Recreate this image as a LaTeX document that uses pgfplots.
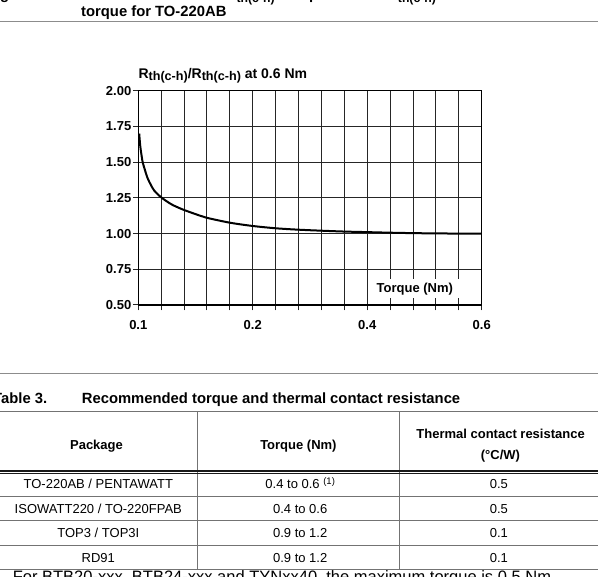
\documentclass[border=0pt]{standalone}
\usepackage{pgfplots}
\pgfplotsset{compat=1.18}
\usepackage{fontspec}
\setmainfont{Liberation Sans}
\newcommand\fsz[1]{\fontsize{#1bp}{#1bp}\selectfont}
\newcommand\sub[1]{\raisebox{-3.2bp}{\fsz{12.2}#1}}
\begin{document}
\begin{tikzpicture}[x=1bp,y=1bp]
\path[use as bounding box] (0,0) rectangle (598,577);
\clip (0,0) rectangle (598,577);
% figure caption (top, partly cut)
\node[anchor=base west, inner sep=0] at (-13.2,577.3) {\fsz{14.8}\bfseries Figure 3.};
\node[anchor=base west, inner sep=0] at (81,577.3) {\fsz{14.8}\bfseries Relative variation of R\sub{th(c-h)} compared with R\sub{th(c-h)} at 0.6 Nm versus};
\node[anchor=base west, inner sep=0] at (81,560.3) {\fsz{14.8}\bfseries torque for TO-220AB};
\draw[black!45, line width=1.3] (0,555.3) -- (598,555.3);
% chart
\begin{axis}[at={(138.3bp,272bp)}, anchor=south west, scale only axis,
  width=343.4bp, height=214.3bp,
  xmin=0, xmax=15, ymin=0.5, ymax=2,
  xtick={0,5,10,15}, xticklabels={0.1,0.2,0.4,0.6},
  minor xtick={1,2,3,4,6,7,8,9,11,12,13,14},
  ytick={0.5,0.75,1,1.25,1.5,1.75,2},
  grid=both,
  grid style={black!85, line width=1bp},
  major grid style={black!85, line width=1bp},
  minor grid style={black!85, line width=1bp},
  axis line style={black, line width=1.4bp},
  tick pos=left, tick align=center,
  major tick length=11bp, minor tick length=11bp,
  tick style={black!85, line width=1bp},
  /pgf/number format/assume math mode=true,
  ticklabel style={font=\fsz{13}\bfseries},
  xticklabel style={yshift=-6bp},
  yticklabel style={xshift=2bp, /pgf/number format/.cd, fixed, fixed zerofill, precision=2},
]
\addplot[black, line width=2bp, smooth, tension=0.5] coordinates {
(0.04,1.70) (0.08,1.62) (0.13,1.56) (0.19,1.50) (0.28,1.45) (0.40,1.39)
(0.55,1.34) (0.70,1.30) (0.95,1.26) (1.2,1.23) (1.5,1.20) (2.0,1.165)
(2.7,1.125) (3.0,1.11) (4.0,1.076) (5,1.053) (6,1.037) (7,1.027)
(8,1.02) (9,1.014) (10,1.01) (11,1.006) (12,1.003) (13,1.001) (14,1.0) (15,1.0)
};
\node[fill=white, inner xsep=5.5bp, inner ysep=0, minimum height=19bp, font=\fsz{13}\bfseries] at (axis cs:12.08,0.612) {Torque (Nm)};
\end{axis}
\node[anchor=base west, inner sep=0] at (138.3,498.7) {\fsz{14}\bfseries R\raisebox{-2.7bp}{\fsz{12.6}th(c-h)}/R\raisebox{-2.7bp}{\fsz{12.6}th(c-h)} at 0.6 Nm};
% separator
\draw[black!45, line width=1.3] (0,203.7) -- (598,203.7);
% table title
\node[anchor=base west, inner sep=0] at (-7,173) {\fsz{14.8}\bfseries Table 3.};
\node[anchor=base west, inner sep=0] at (81.7,173) {\fsz{14.8}\bfseries Recommended torque and thermal contact resistance};
% table rules
\draw[black!55, line width=1] (0,165) -- (598,165);
\draw[black!55, line width=1] (197.2,165) -- (197.2,8);
\draw[black!55, line width=1] (399.3,165) -- (399.3,8);
\draw[black!90, line width=1.2] (0,106) -- (598,106);
\draw[black!90, line width=1.2] (0,103.2) -- (598,103.2);
\draw[black!55, line width=1] (0,81) -- (598,81);
\draw[black!55, line width=1] (0,57) -- (598,57);
\draw[black!55, line width=1] (0,32) -- (598,32);
\draw[black!55, line width=1] (0,8) -- (598,8);
% header
\node[anchor=base, inner sep=0] at (96.5,127.3) {\fsz{13}\bfseries Package};
\node[anchor=base, inner sep=0] at (298.4,127.3) {\fsz{13}\bfseries Torque (Nm)};
\node[anchor=base, inner sep=0] at (500.6,138.3) {\fsz{13}\bfseries Thermal contact resistance};
\node[anchor=base, inner sep=0] at (500.4,117) {\fsz{13}\bfseries (°C/W)};
% rows
\node[anchor=base, inner sep=0] at (96.5,88.2) {\fsz{13} TO-220AB / PENTAWATT};
\node[anchor=base, inner sep=0] at (298.4,88.2) {\fsz{13} 0.4 to 0.6 \raisebox{4.5bp}{\fsz{9.5}(1)}};
\node[anchor=base, inner sep=0] at (497,88.2) {\fsz{13} 0.5};
\node[anchor=base, inner sep=0] at (96.5,63.7) {\fsz{13} ISOWATT220 / TO-220FPAB};
\node[anchor=base, inner sep=0] at (298.4,63.7) {\fsz{13} 0.4 to 0.6};
\node[anchor=base, inner sep=0] at (497,63.7) {\fsz{13} 0.5};
\node[anchor=base, inner sep=0] at (96.5,39.2) {\fsz{13} TOP3 / TOP3I};
\node[anchor=base, inner sep=0] at (298.4,39.2) {\fsz{13} 0.9 to 1.2};
\node[anchor=base, inner sep=0] at (497,39.2) {\fsz{13} 0.1};
\node[anchor=base, inner sep=0] at (96.5,14.7) {\fsz{13} RD91};
\node[anchor=base, inner sep=0] at (298.4,14.7) {\fsz{13} 0.9 to 1.2};
\node[anchor=base, inner sep=0] at (497,14.7) {\fsz{13} 0.1};
% footnote (cut)
\node[anchor=base west, inner sep=0] at (8,-6) {\fsz{16.5} For BTB20-xxx, BTB24-xxx and TYNxx40, the maximum torque is 0.5 Nm.};
\end{tikzpicture}
\end{document}
